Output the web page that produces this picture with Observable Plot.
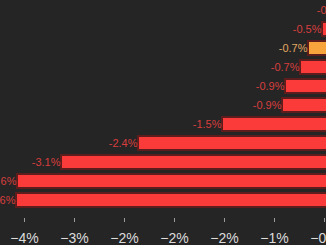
<!DOCTYPE html>
<html><head><meta charset="utf-8">
<script src="https://cdn.jsdelivr.net/npm/d3@7"></script>
<script src="https://cdn.jsdelivr.net/npm/@observablehq/plot@0.6"></script>
<style>
html,body{margin:0;padding:0;background:#252525;overflow:hidden;}
#chart svg{overflow:hidden;display:block}
</style></head><body><div id="chart"></div>
<script>
const categories = ["R1","R2","R3","R4","R5","R6","R7","R8","R9","R10","R11"];
const values = [-0.28,-0.52,-0.66,-0.74,-0.89,-0.92,-1.52,-2.36,-3.13,-3.57,-3.58];
const valueLabels = ["-0.3%","-0.5%","-0.7%","-0.7%","-0.9%","-0.9%","-1.5%","-2.4%","-3.1%","-3.6%","-3.6%"];
const highlight = [false,false,true,false,false,false,false,false,false,false,false];
const tickValues = [-3.5,-3,-2.5,-2,-1.5,-1,-0.5];
const tickLabels = ["−4%","−3%","−2%","−2%","−2%","−1%","−0%"];

const data = categories.map((c,i)=>({category:c, value:values[i], label:valueLabels[i], hl:highlight[i]}));

const plot = Plot.plot({
  width: 326, height: 245,
  marginTop:0, marginRight:0, marginBottom:27, marginLeft:0,
  style:{background:"#252525", fontFamily:"'Liberation Sans', Arial, sans-serif", overflow:"hidden"},
  x:{domain:[-3.74, 0], range:[0, 374], label:null},
  y:{domain:categories, range:[0.45,210.5], paddingInner:0.25, paddingOuter:0.125, axis:null},
  color:{type:"identity"},
  marks:[
    Plot.barX(data,{x1:0,x2:"value",y:"category",fill:d=>d.hl?"#f7a43c":"#fb3a3a", stroke:"#5e1d1d", strokeWidth:2}),
    Plot.text(data,{x:"value",y:"category",text:"label",textAnchor:"end",dx:-1,fill:d=>d.hl?"#e2a862":"#d83e3e", fontSize:11}),
    Plot.axisX({ticks:tickValues, tickFormat:d=>tickLabels[tickValues.indexOf(d)], label:null, tickSize:4, tickPadding:11, fontSize:14, fill:"#dcdcdc", stroke:"#9a9a9a"})
  ]
});
document.getElementById("chart").appendChild(plot);
</script></body></html>
